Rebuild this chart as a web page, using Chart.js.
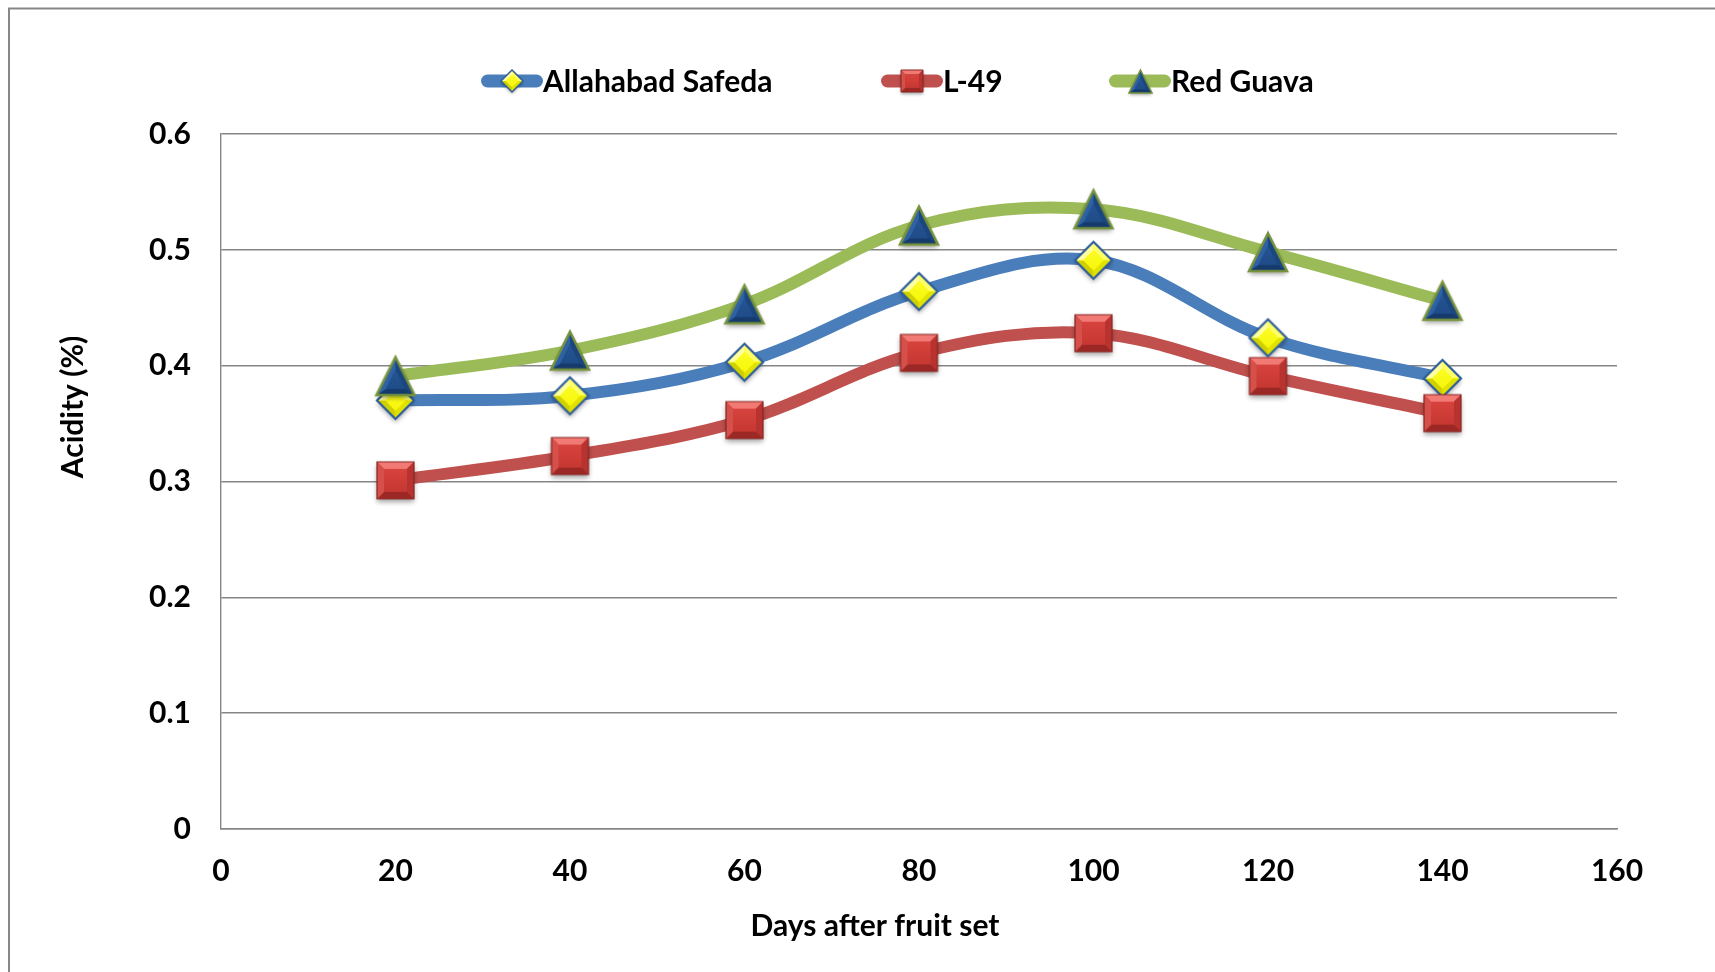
<!DOCTYPE html>
<html>
<head>
<meta charset="utf-8">
<title>Acidity (%) vs Days after fruit set</title>
<script src="https://cdn.jsdelivr.net/npm/chart.js@4.4.1/dist/chart.umd.min.js"></script>
<style>
  html, body { margin: 0; padding: 0; background: #ffffff; }
  canvas { display: block; }
</style>
</head>
<body>
<canvas id="chart" width="1715" height="972"></canvas>
<script>
// ---- data ----
const days = [20, 40, 60, 80, 100, 120, 140];
const allahabadSafeda = [0.370, 0.374, 0.403, 0.464, 0.491, 0.424, 0.389];
const l49 = [0.301, 0.322, 0.353, 0.411, 0.428, 0.391, 0.359];
const redGuava = [0.391, 0.413, 0.453, 0.521, 0.535, 0.498, 0.456];
const seriesNames = ['Allahabad Safeda', 'L-49', 'Red Guava'];

const xTickValues = [0, 20, 40, 60, 80, 100, 120, 140, 160];
const yTickValues = [0, 0.1, 0.2, 0.3, 0.4, 0.5, 0.6];
const yTickLabels = ['0', '0.1', '0.2', '0.3', '0.4', '0.5', '0.6'];

const xTitle = 'Days after fruit set';
const yTitle = 'Acidity (%)';

// ---- styling ----
const FONT = 'Lato, "Open Sans", "DejaVu Sans", sans-serif';
const FONT_SIZE = 30;
const GRID = '#868686';
const COLORS = { blue: '#4a7ebb', red: '#c0504d', green: '#9bbb59' };

// Bevelled marker sprites drawn on small offscreen canvases
function poly(g, pts) {
  g.beginPath();
  g.moveTo(pts[0][0], pts[0][1]);
  for (let i = 1; i < pts.length; i++) g.lineTo(pts[i][0], pts[i][1]);
  g.closePath();
}
function shrink(pts, cx, cy, k) {
  return pts.map(p => [cx + (p[0] - cx) * k, cy + (p[1] - cy) * k]);
}
function facets(g, outer, inner, colors) {
  const n = outer.length;
  for (let i = 0; i < n; i++) {
    const j = (i + 1) % n;
    poly(g, [outer[i], outer[j], inner[j], inner[i]]);
    g.fillStyle = colors[i];
    g.fill();
  }
}
function markerSprite(kind, size) {
  const pad = Math.ceil(size * 0.3) + 2;
  const W = size + pad * 2;
  const cv = document.createElement('canvas');
  cv.width = W; cv.height = W;
  const g = cv.getContext('2d');
  const c = W / 2, h = size / 2;
  let outer, cx = c, cy = c, inner, faceCols, mid, edge, edgeW;
  if (kind === 'square') {
    outer = [[c - h, c - h], [c + h, c - h], [c + h, c + h], [c - h, c + h]];
    inner = shrink(outer, cx, cy, 0.62);
    faceCols = ['#f27a75', '#b8332f', '#9c2825', '#d5504b'];
    mid = ['#dc4641', '#c2352f'];
    edge = '#8a2724'; edgeW = Math.max(1, size / 30);
  } else if (kind === 'diamond') {
    outer = [[c, c - h], [c + h, c], [c, c + h], [c - h, c]];
    inner = shrink(outer, cx, cy, 0.55);
    faceCols = ['#ffff66', '#e2e200', '#d0d000', '#ffffa0'];
    mid = ['#ffff30', '#f4f400'];
    edge = '#2f5f9c'; edgeW = Math.max(1.5, size / 17);
  } else {
    outer = [[c, c - h], [c + h, c + h], [c - h, c + h]];
    cy = c + h / 3;
    inner = shrink(outer, cx, cy, 0.5);
    faceCols = ['#1b467f', '#163a6b', '#2e62a4'];
    mid = ['#2a5a98', '#1d4a86'];
    edge = '#76923c'; edgeW = Math.max(1.5, size / 15);
  }
  // soft drop shadow under the silhouette
  g.save();
  g.shadowColor = 'rgba(0,0,0,0.38)';
  g.shadowBlur = size * 0.14;
  g.shadowOffsetY = size * 0.08;
  poly(g, outer);
  g.fillStyle = mid[1];
  g.fill();
  g.restore();
  // bevel faces and top face
  facets(g, outer, inner, faceCols);
  const gr = g.createLinearGradient(0, c - h, 0, c + h);
  gr.addColorStop(0, mid[0]);
  gr.addColorStop(1, mid[1]);
  poly(g, inner);
  g.fillStyle = gr;
  g.fill();
  // outline
  poly(g, outer);
  g.lineJoin = 'miter';
  g.lineWidth = edgeW;
  g.strokeStyle = edge;
  g.stroke();
  return cv;
}

const markers = {
  diamond: markerSprite('diamond', 37),
  square: markerSprite('square', 37),
  triangle: markerSprite('triangle', 38)
};
const legendMarkers = {
  diamond: markerSprite('diamond', 22),
  square: markerSprite('square', 22),
  triangle: markerSprite('triangle', 23)
};

function points(values) {
  return days.map((d, i) => ({ x: d, y: values[i] }));
}

const series = [
  { name: seriesNames[0], values: allahabadSafeda, color: COLORS.blue, marker: 'diamond', order: 3 },
  { name: seriesNames[1], values: l49, color: COLORS.red, marker: 'square', order: 2 },
  { name: seriesNames[2], values: redGuava, color: COLORS.green, marker: 'triangle', order: 1 }
];

// White page frame (top and left rules)
const framePlugin = {
  id: 'frame',
  beforeDraw(chart) {
    const g = chart.ctx;
    g.save();
    g.fillStyle = '#ffffff';
    g.fillRect(0, 0, chart.width, chart.height);
    g.strokeStyle = '#878787';
    g.lineWidth = 2;
    g.beginPath();
    g.moveTo(9, chart.height);
    g.lineTo(9, 8.5);
    g.lineTo(chart.width, 8.5);
    g.stroke();
    g.restore();
  }
};

// Legend: thick line swatch with the series marker, label right after it
const legendSlots = [481, 881, 1109];
const legendY = 81;
const swatchLen = 62;
const legendPlugin = {
  id: 'seriesLegend',
  afterDraw(chart) {
    const g = chart.ctx;
    g.save();
    chart.data.datasets.forEach((ds, i) => {
      const x0 = legendSlots[i];
      g.strokeStyle = ds.borderColor;
      g.lineWidth = 13;
      g.lineCap = 'round';
      g.beginPath();
      g.moveTo(x0 + 6.5, legendY);
      g.lineTo(x0 + swatchLen - 6.5, legendY);
      g.stroke();
      const m = legendMarkers[series[i].marker];
      g.drawImage(m, Math.round(x0 + swatchLen / 2 - m.width / 2), Math.round(legendY - m.height / 2));
      g.fillStyle = '#000000';
      g.font = 'bold ' + FONT_SIZE + 'px ' + FONT;
      g.textAlign = 'left';
      g.textBaseline = 'middle';
      g.fillText(ds.label, x0 + swatchLen, legendY + 1);
    });
    g.restore();
  }
};

// Axis titles
const axisTitlePlugin = {
  id: 'axisTitles',
  afterDraw(chart) {
    const g = chart.ctx;
    g.save();
    g.fillStyle = '#000000';
    g.font = 'bold ' + FONT_SIZE + 'px ' + FONT;
    g.textAlign = 'center';
    g.textBaseline = 'middle';
    g.fillText(xTitle, 875, 926);
    g.translate(73, 407);
    g.rotate(-Math.PI / 2);
    g.fillText(yTitle, 0, 0);
    g.restore();
  }
};

const tickFont = { family: FONT, size: FONT_SIZE, weight: 'bold' };

new Chart(document.getElementById('chart'), {
  type: 'line',
  data: {
    datasets: series.map(s => ({
      label: s.name,
      data: points(s.values),
      borderColor: s.color,
      backgroundColor: s.color,
      borderWidth: 12,
      borderCapStyle: 'round',
      borderJoinStyle: 'round',
      tension: 0.36,
      fill: false,
      pointStyle: markers[s.marker],
      pointRadius: 19,
      pointHoverRadius: 19,
      order: s.order,
      clip: false
    }))
  },
  options: {
    responsive: false,
    animation: false,
    events: [],
    devicePixelRatio: 1,
    layout: { padding: { top: 134, right: 98, left: 0, bottom: 0 } },
    plugins: {
      legend: { display: false },
      tooltip: { enabled: false }
    },
    scales: {
      x: {
        type: 'linear',
        min: 0,
        max: 160,
        afterBuildTicks: s => { s.ticks = xTickValues.map(v => ({ value: v })); },
        afterFit: s => { s.height = 143; },
        grid: { display: false, drawTicks: false },
        border: { display: true, color: GRID, width: 1.6 },
        ticks: { font: tickFont, color: '#000000', padding: 24, maxRotation: 0, autoSkip: false }
      },
      y: {
        min: 0,
        max: 0.6,
        afterBuildTicks: s => { s.ticks = yTickValues.map(v => ({ value: v })); },
        afterFit: s => { s.width = 221; },
        grid: { color: GRID, lineWidth: 1.4, drawTicks: false },
        border: { display: true, color: GRID, width: 1.4 },
        ticks: {
          font: tickFont,
          color: '#000000',
          padding: 30,
          autoSkip: false,
          callback: (v, i) => yTickLabels[i]
        }
      }
    }
  },
  plugins: [framePlugin, legendPlugin, axisTitlePlugin]
});
</script>
</body>
</html>
